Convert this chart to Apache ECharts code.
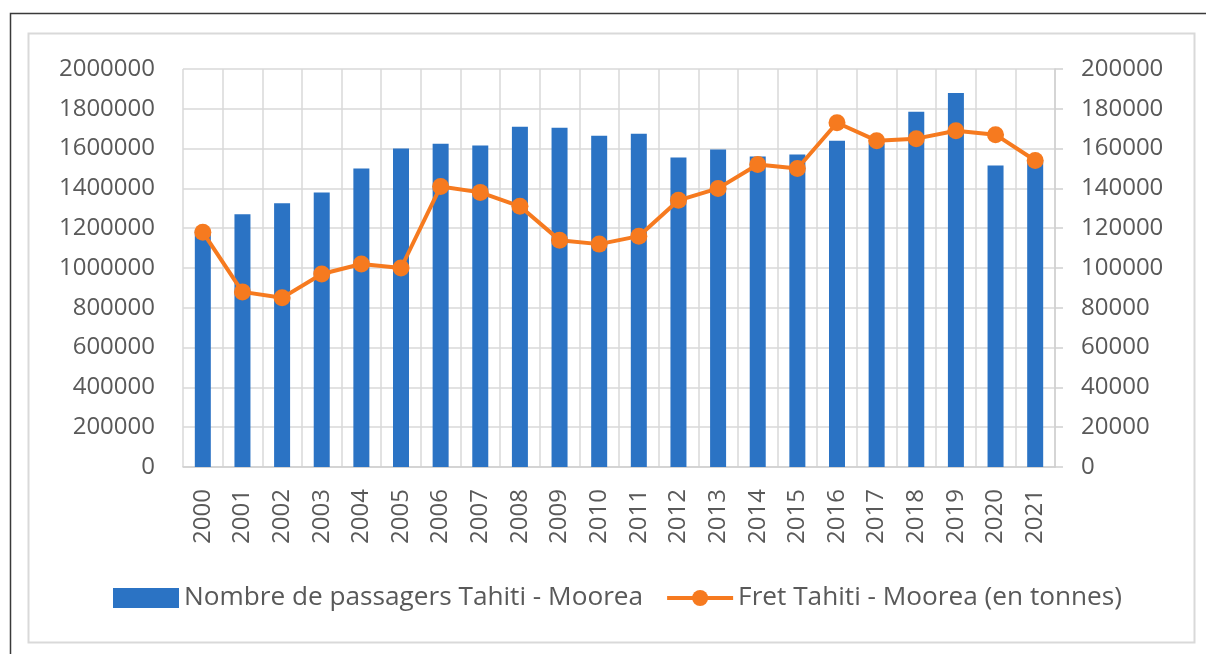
<!DOCTYPE html>
<html>
<head>
<meta charset="utf-8">
<script src="https://cdn.jsdelivr.net/npm/echarts@6/dist/echarts.min.js"></script>
<style>
html, body { margin: 0; padding: 0; background: #fff; }
#chart { width: 1206px; height: 654px; }
</style>
</head>
<body>
<div id="chart"></div>
<script>
var years = ['2000', '2001', '2002', '2003', '2004', '2005', '2006', '2007', '2008', '2009', '2010',
	'2011', '2012', '2013', '2014', '2015', '2016', '2017', '2018', '2019', '2020', '2021'];
var passagers = [1190000, 1270000, 1325000, 1380000, 1500000, 1600000, 1625000, 1615000, 1710000, 1705000, 1665000,
	1675000, 1555000, 1595000, 1560000, 1570000, 1640000, 1625000, 1785000, 1880000, 1515000, 1540000];
var fret = [118000, 88000, 85000, 97000, 102000, 100000, 141000, 138000, 131000, 114000, 112000,
	116000, 134000, 140000, 152000, 150000, 173000, 164000, 165000, 169000, 167000, 154000];

var txt = '#595959';
var fnt = '"Open Sans", sans-serif';

// plain numbers, no thousands separator
function plain(v) {
	return String(v);
}

var myChart = echarts.init(document.getElementById('chart'));
var option = {
	animation: false,
	textStyle: { fontFamily: fnt },
	graphic: [{
		type: 'polyline',
		shape: { points: [[10.5, 654], [10.5, 13.5], [1206, 13.5]] },
		style: { stroke: '#3a3a3a', lineWidth: 1.5, fill: null }
	}, {
		type: 'rect',
		shape: { x: 28.5, y: 33.5, width: 1166, height: 609 },
		style: { fill: '#fff', stroke: '#d9d9d9', lineWidth: 2 },
		z: -10
	}],
	grid: {
		left: 183,
		right: 151,
		top: 69,
		bottom: 187
	},
	legend: {
		top: 580,
		left: 108,
		itemGap: 22,
		itemWidth: 66,
		itemHeight: 20,
		textStyle: { color: txt, fontSize: 26.2, fontFamily: fnt },
		data: [{
			name: 'Nombre de passagers Tahiti - Moorea',
			icon: 'rect',
			itemStyle: { color: '#2b73c4' }
		}, {
			name: 'Fret Tahiti - Moorea (en tonnes)',
			lineStyle: { width: 4, color: '#f67a1f' }
		}]
	},
	xAxis: [{
		type: 'category',
		data: years,
		boundaryGap: true,
		axisLine: { show: true, lineStyle: { color: '#d0d0d0', width: 1.5 } },
		axisTick: { show: false },
		splitLine: { show: true, interval: 0, lineStyle: { color: '#d9d9d9', width: 1.5 } },
		axisLabel: {
			rotate: 90,
			interval: 0,
			margin: 22,
			color: txt,
			fontSize: 24,
			fontFamily: fnt
		}
	}],
	yAxis: [{
		type: 'value',
		min: 0,
		max: 2000000,
		interval: 200000,
		axisLine: { show: false },
		axisTick: { show: false },
		splitLine: { show: true, lineStyle: { color: '#d9d9d9', width: 1.5 } },
		axisLabel: { color: txt, fontSize: 24, margin: 28, fontFamily: fnt, formatter: plain }
	}, {
		type: 'value',
		min: 0,
		max: 200000,
		interval: 20000,
		position: 'right',
		axisLine: { show: true, lineStyle: { color: '#d0d0d0', width: 1.5 } },
		axisTick: { show: true, length: 8, lineStyle: { color: '#d0d0d0', width: 1.5 } },
		splitLine: { show: false },
		axisLabel: { color: txt, fontSize: 24, margin: 26, fontFamily: fnt, formatter: plain }
	}],
	series: [{
		name: 'Nombre de passagers Tahiti - Moorea',
		type: 'bar',
		barWidth: 16,
		yAxisIndex: 0,
		itemStyle: { color: '#2b73c4' },
		data: passagers
	}, {
		name: 'Fret Tahiti - Moorea (en tonnes)',
		type: 'line',
		yAxisIndex: 1,
		symbol: 'circle',
		symbolSize: 17,
		lineStyle: { color: '#f67a1f', width: 4 },
		itemStyle: { color: '#f67a1f' },
		data: fret
	}]
};
myChart.setOption(option);
</script>
</body>
</html>
